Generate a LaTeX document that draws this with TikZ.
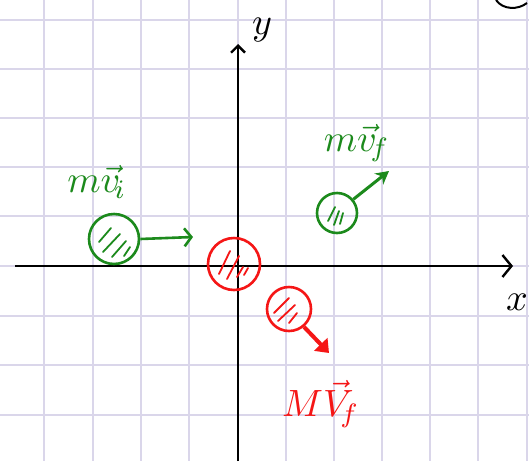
\documentclass[tikz,border=0pt]{standalone}
\usepackage{graphicx}
\usetikzlibrary{arrows.meta}
\definecolor{gridc}{RGB}{218,214,234}
\definecolor{pgreen}{RGB}{28,138,28}
\definecolor{pred}{RGB}{245,22,22}
\newcommand{\bigtxt}[1]{\scalebox{3.8}{#1}}
\tikzset{
  ball/.style={circle, draw, line width=2.6pt, inner sep=0pt},
  hatch/.style={line width=1.8pt, line cap=round},
  lbl/.style={inner sep=0pt},
  axis/.style={line width=2.4pt, black}
}
\begin{document}
\begin{tikzpicture}[x=1pt,y=-1pt]
\useasboundingbox (0,0) rectangle (529,461);
\fill[white] (0,0) rectangle (529,461);
% grid
\foreach \gx in {44,93,141,189,238,286,334,382,430,478,527}
  \draw[gridc, line width=1.6pt] (\gx,0) -- (\gx,461);
\foreach \gy in {20,69,118,167,216,266,316,365,415,464}
  \draw[gridc, line width=1.6pt] (0,\gy) -- (529,\gy);
% axes
\coordinate (xs) at (15,266);
\coordinate (xe) at (513,266);
\coordinate (ys) at (238,461);
\coordinate (ye) at (238,44);
\draw[axis, -{Straight Barb[length=9pt,width=22pt,line width=2.4pt]}] (xs) -- (xe);
\draw[axis, -{Straight Barb[length=7pt,width=14pt,line width=2.4pt]}] (ys) -- (ye);
\node[lbl] (ylab) at (262,30) {\bigtxt{$y$}};
\node[lbl] (xlab) at (517,302) {\bigtxt{$x$}};
% partial circle at top right
\draw[line width=2pt] (496,0) .. controls (503,10) and (518,10) .. (527,3);
% green initial ball
\node[ball, draw=pgreen, minimum size=50pt] (gi) at (114,239) {};
\foreach \a/\b in {{(-15,3)}/{(-3,-11)}, {(-11,13)}/{(6,-5)}, {(-2,18)}/{(12,2)}, {(10,17)}/{(16,8)}}
  \draw[hatch, pgreen] ([shift=\a]gi.center) -- ([shift=\b]gi.center);
\coordinate (gia) at (193,237);
\draw[pgreen, line width=2.6pt, -{Straight Barb[length=7pt,width=18pt,line width=2.6pt]}] (gi.east) -- (gia);
\node[lbl, text=pgreen] (gil) at (97,182) {\bigtxt{$m\vec{v}_{\!i}$}};
% green final ball
\node[ball, draw=pgreen, minimum size=40pt] (gf) at (337,213) {};
\foreach \a/\b in {{(-9,8)}/{(-2,-6)}, {(-3,12)}/{(2,-2)}, {(3,11)}/{(6,0)}}
  \draw[hatch, pgreen] ([shift=\a]gf.center) -- ([shift=\b]gf.center);
\coordinate (gfa) at (389,171);
\draw[pgreen, line width=3pt, -{Stealth[length=13pt,width=14pt]}] (gf.40) -- (gfa);
\node[lbl, text=pgreen] (gfl) at (357,143) {\bigtxt{$m\vec{v}_{\!f}$}};
% red ball at origin
\node[ball, draw=pred, minimum size=52pt] (rc) at (234,264) {};
\foreach \a/\b in {{(-15,10)}/{(-4,-13)}, {(-7,15)}/{(5,-8)}, {(3,13)}/{(9,3)}, {(10,11)}/{(14,4)}}
  \draw[hatch, pred] ([shift=\a]rc.center) -- ([shift=\b]rc.center);
% red final ball
\node[ball, draw=pred, minimum size=44pt] (rf) at (289,309) {};
\foreach \a/\b in {{(-15,4)}/{(0,-11)}, {(-11,12)}/{(6,-4)}, {(0,14)}/{(8,4)}}
  \draw[hatch, pred] ([shift=\a]rf.center) -- ([shift=\b]rf.center);
\coordinate (rfa) at (329,353);
\draw[pred, line width=4pt, -{Triangle[length=12pt,width=18pt]}] (rf.-50) -- (rfa);
\node[lbl, text=pred] (rfl) at (321,404) {\bigtxt{$M\vec{V}_{\!f}$}};
\end{tikzpicture}
\end{document}
